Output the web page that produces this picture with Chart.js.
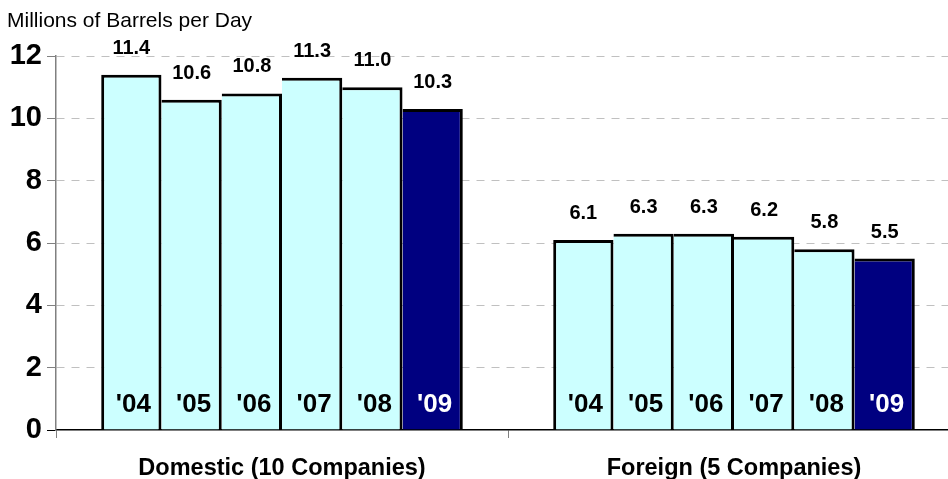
<!DOCTYPE html>
<html>
<head>
<meta charset="utf-8">
<script src="https://cdn.jsdelivr.net/npm/chart.js@4/dist/chart.umd.min.js"></script>
<style>
  html, body { margin: 0; padding: 0; background: #ffffff; overflow: hidden; }
  #wrap { position: relative; width: 1000px; height: 479px; }
</style>
</head>
<body>
<div id="wrap"><canvas id="c" width="1000" height="479"></canvas></div>
<script>
const categories = ['Domestic (10 Companies)', 'Foreign (5 Companies)'];
const years = ["'04", "'05", "'06", "'07", "'08", "'09"];
const y2004 = [11.4, 6.1];
const y2005 = [10.6, 6.3];
const y2006 = [10.8, 6.3];
const y2007 = [11.3, 6.2];
const y2008 = [11.0, 5.8];
const y2009 = [10.3, 5.5];
const yTicks = [0, 2, 4, 6, 8, 10, 12];
const unitLabel = 'Millions of Barrels per Day';

const seriesValues = [y2004, y2005, y2006, y2007, y2008, y2009];
const LIGHT = '#CCFFFF';
const DARK = '#000080';
const FONT = '"Liberation Sans", Arial, sans-serif';

const datasets = seriesValues.map((vals, i) => ({
  label: years[i],
  data: vals,
  backgroundColor: i === years.length - 1 ? DARK : LIGHT,
  borderColor: '#000000',
  borderWidth: i === 0 ? {top: 3, right: 3, left: 3, bottom: 0} : {top: 3, right: 3, left: 0, bottom: 0},
  borderSkipped: false,
  categoryPercentage: 0.8,
  barPercentage: 1.0
}));

const labelPlugin = {
  id: 'labels',
  afterDatasetsDraw(chart) {
    const ctx = chart.ctx;
    const yScale = chart.scales.y;
    ctx.save();
    chart.data.datasets.forEach((ds, di) => {
      const meta = chart.getDatasetMeta(di);
      meta.data.forEach((el, i) => {
        ctx.font = 'bold 20px ' + FONT;
        ctx.fillStyle = '#000000';
        ctx.textAlign = 'center';
        ctx.textBaseline = 'alphabetic';
        ctx.fillText(ds.data[i].toFixed(1), el.x, el.y - 21);
        ctx.font = 'bold 26px ' + FONT;
        ctx.fillStyle = di === years.length - 1 ? '#FFFFFF' : '#000000';
        ctx.textBaseline = 'middle';
        ctx.fillText(ds.label, el.x + 2, yScale.getPixelForValue(0.8));
      });
    });
    ctx.restore();
  },
  afterDraw(chart) {
    const ctx = chart.ctx;
    ctx.save();
    ctx.font = '21px ' + FONT;
    ctx.fillStyle = '#000000';
    ctx.textAlign = 'left';
    ctx.textBaseline = 'middle';
    ctx.fillText(unitLabel, 7, 21);
    ctx.restore();
  }
};

new Chart(document.getElementById('c'), {
  type: 'bar',
  data: { labels: categories, datasets: datasets },
  options: {
    responsive: false,
    animation: false,
    devicePixelRatio: 1,
    layout: { padding: { top: 56, right: 40, bottom: 0, left: 0 } },
    plugins: { legend: { display: false }, tooltip: { enabled: false } },
    scales: {
      x: {
        grid: {
          drawOnChartArea: false,
          offset: true,
          tickLength: 8,
          tickColor: '#808080'
        },
        border: { color: '#000000', width: 1.5 },
        ticks: {
          font: { family: FONT, size: 23.5, weight: 'bold' },
          color: '#000000',
          padding: 16
        },
        afterFit(scale) { scale.height = 49; }
      },
      y: {
        min: 0,
        max: 12,
        afterBuildTicks(scale) { scale.ticks = yTicks.map(v => ({ value: v })); },
        grid: {
          color: (c) => c.index === 0 ? 'rgba(0,0,0,0)' : '#C0C0C0',
          tickColor: (c) => c.index === 0 ? '#000000' : '#808080',
          tickBorderDash: [],
          tickLength: 9
        },
        border: { color: '#808080', dash: [8, 7], width: 1.5 },
        ticks: {
          font: { family: FONT, size: 29, weight: 'bold' },
          color: '#000000',
          padding: 5
        },
        afterFit(scale) { scale.width = 56; }
      }
    }
  },
  plugins: [labelPlugin]
});
</script>
</body>
</html>
